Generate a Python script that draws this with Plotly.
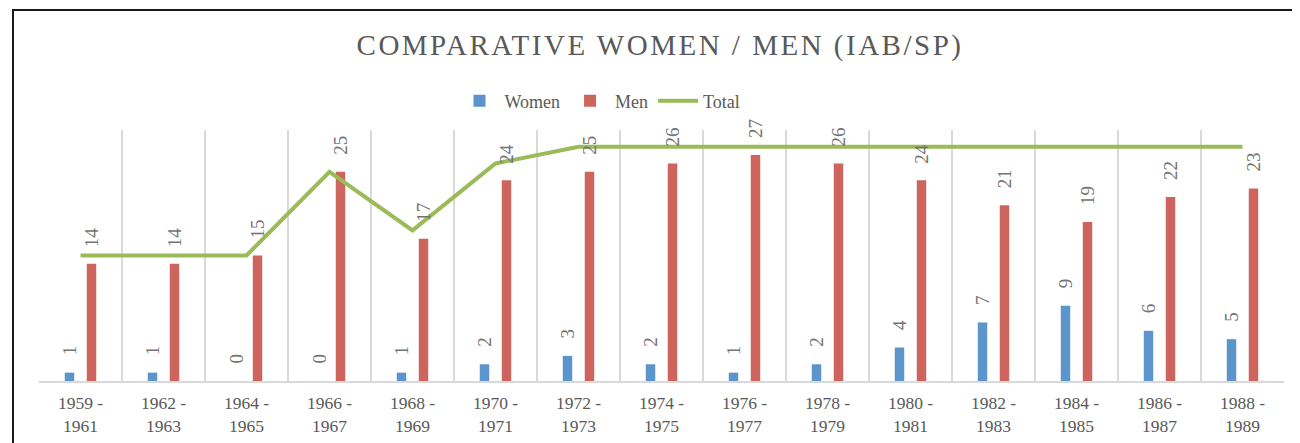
import plotly.graph_objects as go

periods = ["1959 - 1961", "1962 - 1963", "1964 - 1965", "1966 - 1967", "1968 - 1969",
           "1970 - 1971", "1972 - 1973", "1974 - 1975", "1976 - 1977", "1978 - 1979",
           "1980 - 1981", "1982 - 1983", "1984 - 1985", "1986 - 1987", "1988 - 1989"]
women = [1, 1, 0, 0, 1, 2, 3, 2, 1, 2, 4, 7, 9, 6, 5]
men = [14, 14, 15, 25, 17, 24, 25, 26, 27, 26, 24, 21, 19, 22, 23]
total = [15, 15, 15, 25, 18, 26, 28, 28, 28, 28, 28, 28, 28, 28, 28]

# page offset of the browser (default body margin)
OFF = 8
W, H = 1300 - OFF, 443 - OFF
# plot area in screen coordinates: x 39..1284, y 130..381
ML = 39 - OFF
MT = 130 - OFF
MR = W - (1284 - OFF)
MB = H - (381 - OFF)
PW = W - ML - MR
PH = H - MT - MB
BARGAP = 0.47
BARGROUPGAP = 0.57

BLUE = "#5B95CB"
RED = "#CD645E"
GREEN = "#9BBB59"
GRID = "#D9D9D9"
TXT = "#595959"
LBL = "#737373"
SERIF = "Liberation Serif"

ticktext = [p.replace(" - ", " -<br>") for p in periods]

fig = go.Figure()
fig.add_trace(go.Bar(name="Women", x=periods, y=women, marker_color=BLUE, marker_line_width=0))
fig.add_trace(go.Bar(name="Men", x=periods, y=men, marker_color=RED, marker_line_width=0))
fig.add_trace(go.Scatter(name="Total", x=periods, y=total, mode="lines",
                         line=dict(color=GREEN, width=4)))

cat_px = PW / len(periods)
shift = (1 - BARGAP) * cat_px / 4
annots = []
for p, wv, mv in zip(periods, women, men):
    for val, xs in ((wv, -shift), (mv, shift)):
        annots.append(dict(x=p, y=val, xref="x", yref="y", text=str(val), showarrow=False,
                           textangle=-90, xshift=xs, yshift=15, yanchor="bottom", xanchor="center",
                           font=dict(family=SERIF, size=19, color=LBL)))


def px_x(px):
    return (px - OFF - ML) / PW


def px_y(py):
    return (H - MB - (py - OFF)) / PH


shapes = [
    dict(type="line", xref="paper", yref="paper", x0=px_x(13), x1=px_x(13), y0=px_y(10), y1=px_y(450),
         line=dict(color="#1a1a1a", width=2)),
    dict(type="line", xref="paper", yref="paper", x0=px_x(12), x1=px_x(1310), y0=px_y(10), y1=px_y(10),
         line=dict(color="#1a1a1a", width=2)),
]

fig.update_layout(
    width=W, height=H,
    margin=dict(l=ML, r=MR, t=MT, b=MB, autoexpand=False),
    paper_bgcolor="white", plot_bgcolor="white",
    barmode="group", bargap=BARGAP, bargroupgap=BARGROUPGAP,
    title=dict(text='<span style="letter-spacing:2.5px">COMPARATIVE WOMEN / MEN (IAB/SP)</span>',
               x=(660 - OFF) / W, xanchor="center", y=1 - (45 - OFF) / H, yanchor="middle",
               font=dict(family=SERIF, size=29, color=TXT)),
    legend=dict(orientation="h", x=px_x(600), xanchor="center", y=px_y(101), yanchor="middle",
                font=dict(family=SERIF, size=18, color=TXT), traceorder="normal",
                itemwidth=40, bgcolor="rgba(0,0,0,0)"),
    xaxis=dict(type="category", tickmode="array", tickvals=periods, ticktext=ticktext,
               tickson="boundaries", ticks="", showgrid=True, gridcolor=GRID, gridwidth=1.5,
               showline=True, linecolor=GRID, linewidth=1.5, ticklabelstandoff=5,
               automargin=False,
               tickfont=dict(family=SERIF, size=17.5, color=TXT)),
    yaxis=dict(range=[0, 30], showgrid=False, zeroline=False, showticklabels=False, ticks="",
               automargin=False),
    annotations=annots,
    shapes=shapes,
    showlegend=True,
)

fig.write_html("out.html")
